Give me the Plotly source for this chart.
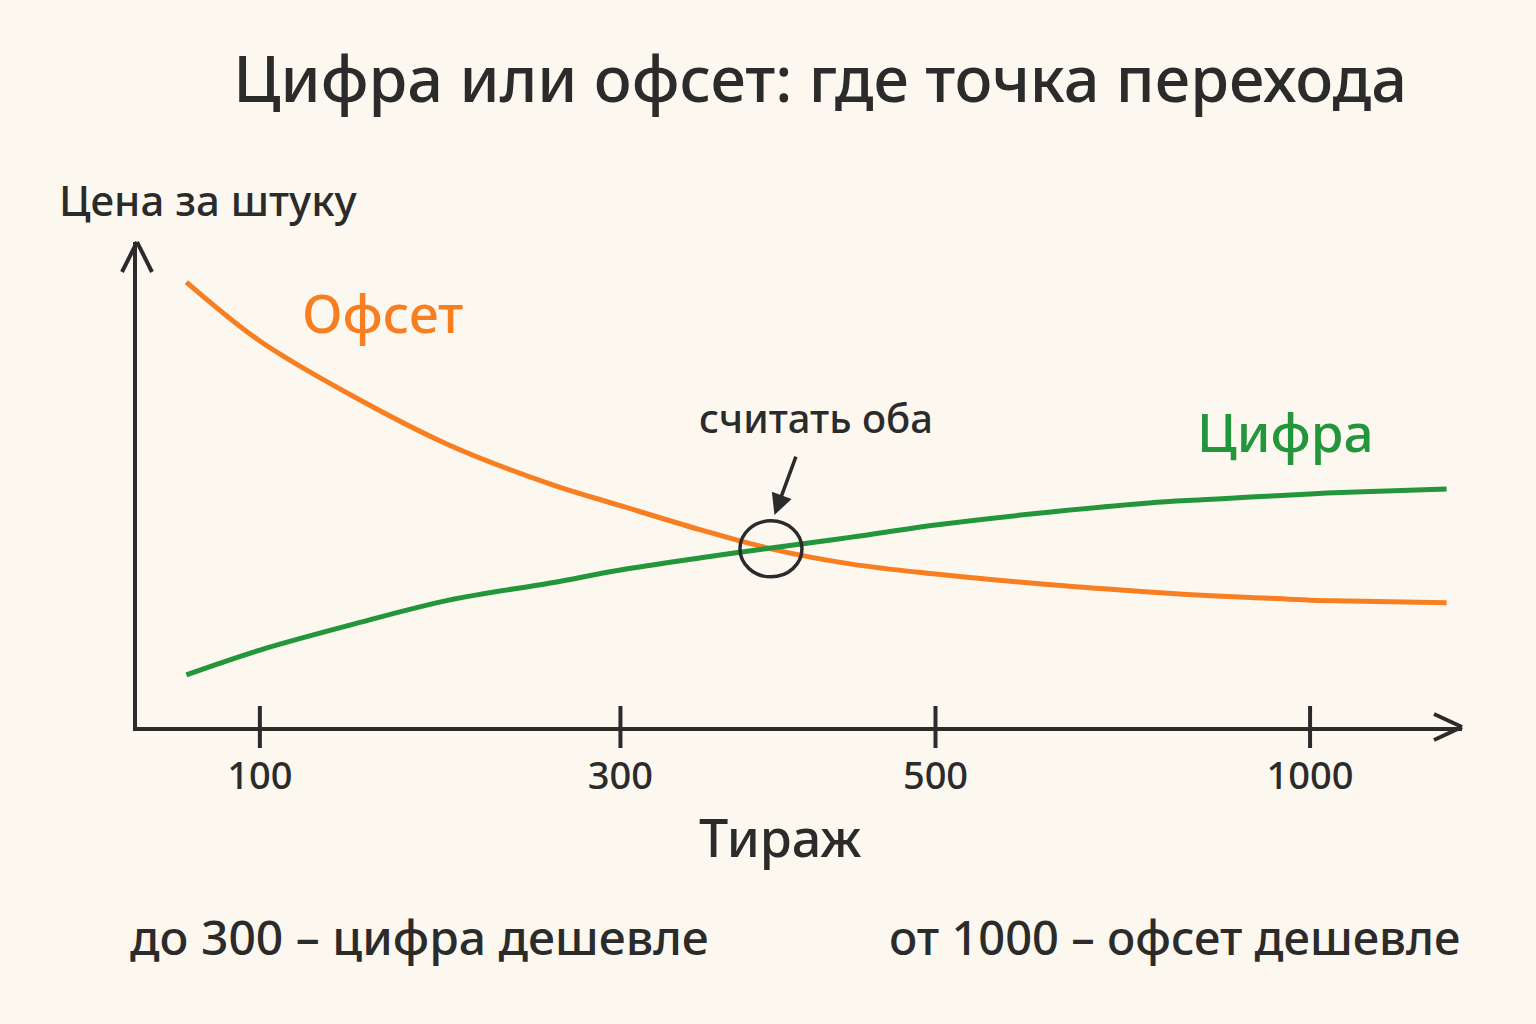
import plotly.graph_objects as go

# run size on an ordinal scale: 1 = 100, 2 = 300, 3 = 500, 4 = 1000 copies
run_position = [0.79, 1.0, 1.26, 1.54, 1.83, 2.03, 2.26, 2.46, 2.69, 2.93, 3.26, 3.54, 3.69, 3.83, 4.0, 4.11, 4.39]
offset_price = [9.89, 8.58, 7.38, 6.27, 5.40, 4.92, 4.38, 3.96, 3.62, 3.40, 3.16, 3.00, 2.93, 2.88, 2.82, 2.80, 2.76]
digital_price = [1.16, 1.71, 2.27, 2.82, 3.20, 3.49, 3.76, 3.98, 4.22, 4.49, 4.78, 4.98, 5.05, 5.11, 5.18, 5.22, 5.29]

tick_positions = [1.0, 2.03, 2.93, 4.0]
tick_labels = ["100", "300", "500", "1000"]

crossing = (2.46, 3.96)

INK = "#2b2b2b"
ORANGE = "#f77f22"
GREEN = "#23953a"
PAPER = "#fcf8ef"
FONT = "Noto Sans"

fig = go.Figure()
fig.add_trace(go.Scatter(
    x=run_position, y=offset_price, mode="lines", name="Офсет",
    line=dict(color=ORANGE, width=5, shape="spline"),
))
fig.add_trace(go.Scatter(
    x=run_position, y=digital_price, mode="lines", name="Цифра",
    line=dict(color=GREEN, width=5, shape="spline"),
))
# tick marks crossing the axis line
fig.add_trace(go.Scatter(
    x=tick_positions, y=[0] * len(tick_positions), mode="markers",
    marker=dict(symbol="line-ns", size=30, line=dict(color=INK, width=4)),
    cliponaxis=False, hoverinfo="skip",
))

# crossing circle
fig.add_shape(
    type="circle", xref="x", yref="y", xsizemode="pixel", ysizemode="pixel",
    xanchor=crossing[0], yanchor=crossing[1],
    x0=-31, x1=31, y0=-28, y1=28,
    line=dict(color=INK, width=3.5),
)

# axis arrow heads
for dy in (13, -13):
    fig.add_shape(
        type="line", xref="paper", yref="paper", xsizemode="pixel", ysizemode="pixel",
        xanchor=1, yanchor=0, x0=-28, y0=dy, x1=0, y1=0,
        line=dict(color=INK, width=4),
    )
for dx in (15, -15):
    fig.add_shape(
        type="line", xref="paper", yref="paper", xsizemode="pixel", ysizemode="pixel",
        xanchor=0, yanchor=1, x0=dx, y0=-30, x1=0, y1=0,
        line=dict(color=INK, width=4),
    )

W = 500
annotations = [
    dict(text="Цена за штуку", xref="paper", yref="paper", x=-0.0604, y=1.087,
         xanchor="left", yanchor="middle", font=dict(size=42, color=INK, weight=W)),
    dict(text="Офсет", xref="x", yref="y", x=1.114, y=9.22,
         xanchor="left", yanchor="middle", font=dict(size=53, color=ORANGE, weight=W)),
    dict(text="Цифра", xref="x", yref="y", x=3.671, y=6.56,
         xanchor="left", yanchor="middle", font=dict(size=53, color=GREEN, weight=W)),
    dict(text="считать оба", xref="x", yref="y", x=2.589, y=6.89,
         xanchor="center", yanchor="middle", font=dict(size=40, color=INK, weight=W)),
    dict(text="", xref="x", yref="y", x=2.47, y=4.71, ax=22, ay=-60,
         showarrow=True, arrowhead=2, arrowsize=1.2, arrowwidth=3.5, arrowcolor=INK),
    dict(text="Тираж", xref="paper", yref="paper", x=0.485, y=-0.225,
         xanchor="center", yanchor="middle", font=dict(size=52, color=INK, weight=W)),
    dict(text="до 300 – цифра дешевле", xref="paper", yref="paper", x=-0.007, y=-0.432,
         xanchor="left", yanchor="middle", font=dict(size=48, color=INK, weight=W)),
    dict(text="от 1000 – офсет дешевле", xref="paper", yref="paper", x=1.0, y=-0.432,
         xanchor="right", yanchor="middle", font=dict(size=47, color=INK, weight=W)),
]
for a in annotations:
    a.setdefault("showarrow", False)
    fig.add_annotation(**a)

fig.update_layout(
    width=1536, height=1024,
    paper_bgcolor=PAPER, plot_bgcolor=PAPER,
    font=dict(family=FONT, color=INK),
    showlegend=False,
    margin=dict(l=137, r=74, t=242, b=297),
    title=dict(text="Цифра или офсет: где точка перехода", x=0.534, y=0.922,
               xanchor="center", yanchor="middle",
               font=dict(size=63, color=INK, weight=W)),
)
fig.update_xaxes(
    range=[0.649, 4.434], showgrid=False, zeroline=False,
    showline=True, linewidth=4, linecolor=INK,
    tickmode="array", tickvals=tick_positions, ticktext=tick_labels,
    ticks="outside", ticklen=12, tickcolor="rgba(0,0,0,0)",
    tickfont=dict(size=38, color=INK, weight=W),
)
fig.update_yaxes(
    range=[0, 10.78], showgrid=False, zeroline=False,
    showline=True, linewidth=4, linecolor=INK,
    showticklabels=False, ticks="",
)

fig.write_html(
    "out.html",
    config={"displayModeBar": False},
    post_script="document.body.style.margin='0';",
)
